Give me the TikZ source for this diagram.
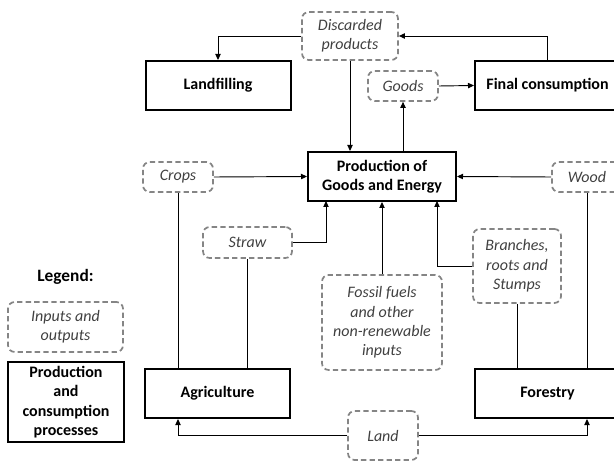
\documentclass[tikz,border=0pt]{standalone}
\usepackage{fontspec}
\setmainfont{Carlito}
\usetikzlibrary{arrows.meta}
\begin{document}
\begin{tikzpicture}[x=0.75pt,y=-0.75pt]
		\tikzset{io/.style={draw=black!48, dash pattern=on 4pt off 2.4pt, line width=1.3pt, rounded corners=5pt, inner sep=0pt, align=center, text=black!75, font=\fontsize{12pt}{14.6pt}\selectfont\itshape}};
		\tikzset{proc/.style={draw=black, line width=1.5pt, inner sep=0pt, align=center, minimum width=108.75pt, minimum height=36.75pt, font=\fontsize{12pt}{14.6pt}\selectfont\bfseries}};
		\tikzset{ar/.style={-{Triangle[length=4.5pt,width=4pt]}, line width=0.7pt}};

		\clip (0,0) rectangle (614,463);

		\node[io, minimum width=72pt, minimum height=36pt] (disc) at (350, 36) {Discarded\\products};
		\node[proc] (lf) at (218, 85.5) {Landfilling};
		\node[io, minimum width=52.5pt, minimum height=22.5pt] (goods) at (403, 86) {Goods};
		\node[proc] (fc) at (547.5, 85.5) {Final consumption};
		\node[proc, minimum width=111pt] (prod) at (382, 176.5) {Production of\\Goods and Energy};
		\node[io, minimum width=52.5pt, minimum height=22.5pt] (crops) at (178, 177) {Crops};
		\node[io, minimum width=52.5pt, minimum height=22.5pt] (wood) at (587, 177) {Wood};
		\node[io, minimum width=66.75pt, minimum height=23.25pt] (straw) at (247.5, 242.5) {Straw};
		\node[io, minimum width=66pt, minimum height=55.5pt] (branch) at (517, 266) {Branches,\\roots and\\Stumps};
		\node[io, minimum width=90pt, minimum height=71.25pt] (fossil) at (382, 322.5) {Fossil fuels\\and other\\non-renewable\\inputs};
		\node[font=\fontsize{13pt}{15pt}\selectfont\bfseries] (legend) at (65.5, 277) {Legend:};
		\node[io, minimum width=86.25pt, minimum height=37.5pt] (leg1) at (65.5, 327) {Inputs and\\outputs};
		\node[proc, minimum width=87pt, minimum height=60pt] (leg2) at (66, 402) {Production\\and\\consumption\\processes};
		\node[proc] (agri) at (217.5, 393.5) {Agriculture};
		\node[proc] (fore) at (547.5, 393.5) {Forestry};
		\node[io, minimum width=52.5pt, minimum height=36.75pt] (land) at (383, 435.5) {Land};

		\coordinate (sin) at (326, 201);
		\coordinate (bin) at (437, 201);

		\draw[ar] (disc.west) -| (lf.north);
		\draw[ar] (fc.north) |- (disc.east);
		\draw[ar] (disc.south) -- (disc.south |- prod.north);
		\draw[ar] (goods.south |- prod.north) -- (goods.south);
		\draw[ar] (goods.east) -- (fc.west);

		\draw[ar] (crops.east) -- (prod.west);
		\draw[ar] (wood.west) -- (prod.east);
		\draw[ar] (straw.east) -| (sin);
		\draw[ar] (fossil.north) -- (fossil.north |- prod.south);
		\draw[ar] (branch.west) -| (bin);

		\draw[line width=0.7pt] (crops.south) -- (crops.south |- agri.north);
		\draw[line width=0.7pt] (straw.south) -- (straw.south |- agri.north);
		\draw[line width=0.7pt] (branch.south) -- (branch.south |- fore.north);
		\draw[line width=0.7pt] (wood.south) -- (wood.south |- fore.north);

		\draw[ar] (land.west) -| (crops.south |- agri.south);
		\draw[ar] (land.east) -| (wood.south |- fore.south);

	\end{tikzpicture}
\end{document}
